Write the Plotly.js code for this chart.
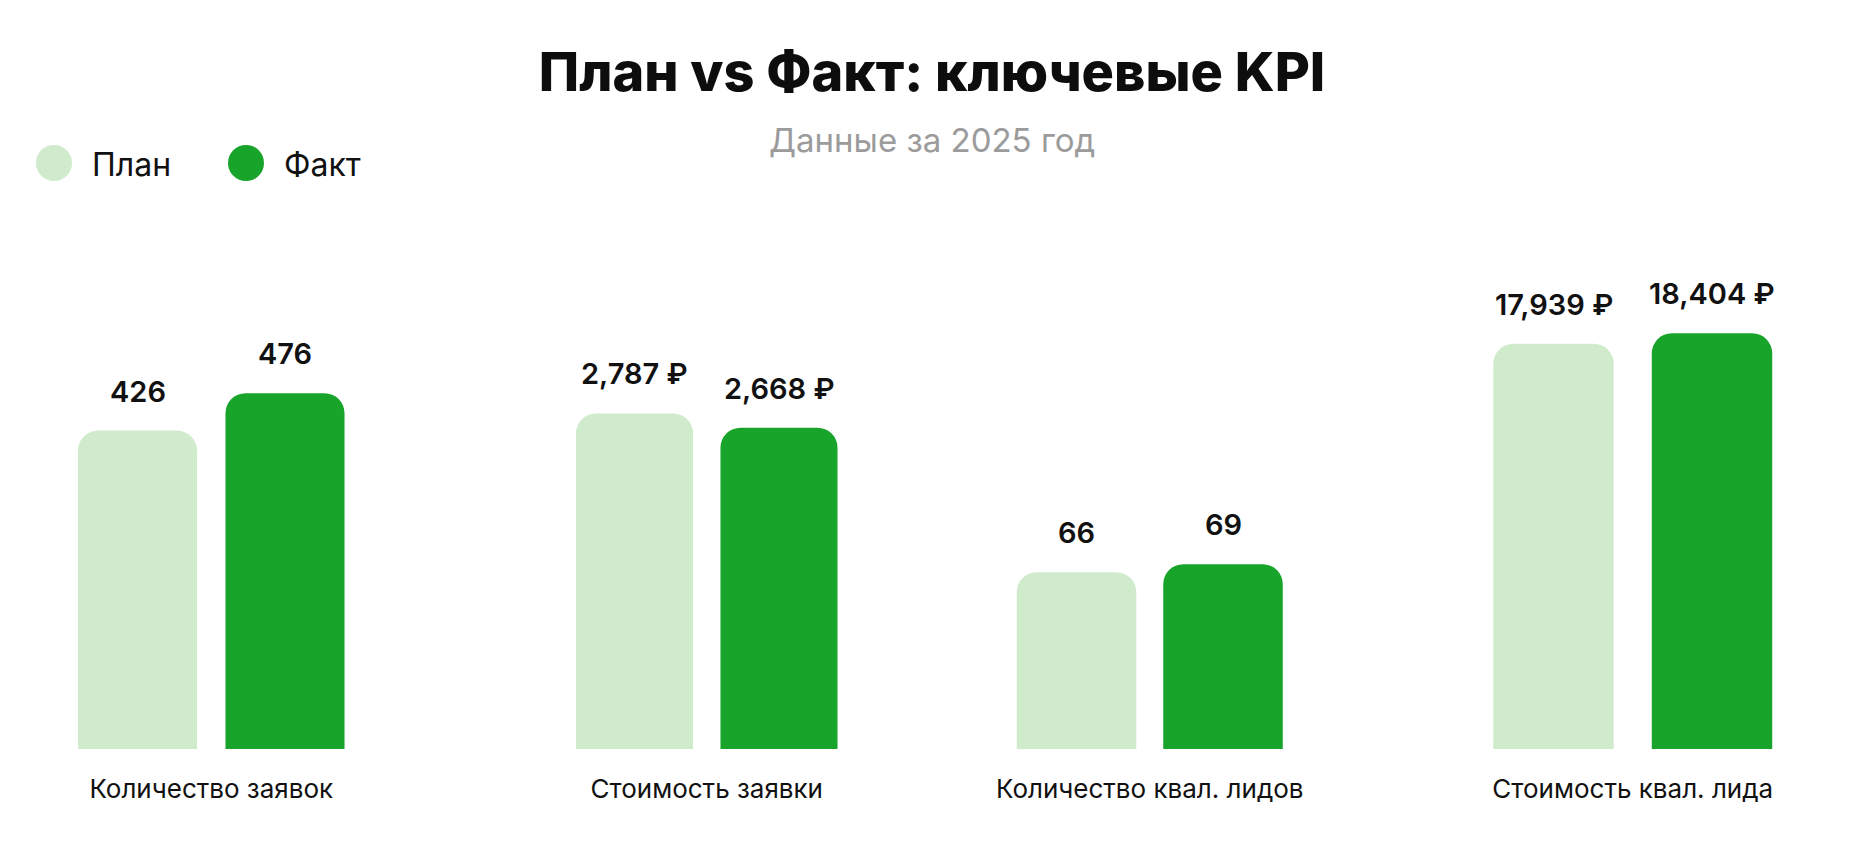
<!DOCTYPE html>
<html>
<head>
<meta charset="utf-8">
<script src="https://cdn.plot.ly/plotly-3.0.1.min.js"></script>
<style>
  html, body { margin: 0; padding: 0; background: #ffffff; }
  #chart { width: 1864px; height: 844px; }
</style>
</head>
<body>
<div id="chart"></div>
<script>
// KPI data, 2025
const kpiNames = ['Количество заявок', 'Стоимость заявки', 'Количество квал. лидов', 'Стоимость квал. лида']
const planValues = [426, 2787, 66, 17939]
const factValues = [476, 2668, 69, 18404]
const valueUnits = ['', ' ₽', '', ' ₽']
const seriesNames = ['План', 'Факт']

const W = 1864, H = 844
const planColor = '#cfebcc'
const factColor = '#18a32a'
const font = 'Inter, "Noto Sans", sans-serif'

// per-group layout: x domains (px), bar width in category units, top of y range
const groupDomains = [[63.75, 358.75], [562.25, 851.25], [1003.25, 1296.25], [1474.25, 1791.25]]
const barWidths = [0.807, 0.81, 0.816, 0.76]
const yTops = [669, 4152, 186.7, 22135]
const yDomain = [1 - 749 / H, 1 - 249 / H]

function fmt(v, unit) {
    return v.toLocaleString('en-US') + unit
}

let data = []
let layout = {
    width: W,
    height: H,
    margin: { l: 0, r: 0, t: 0, b: 0 },
    paper_bgcolor: '#ffffff',
    plot_bgcolor: '#ffffff',
    showlegend: false,
    font: { family: font, color: '#111111' },
    title: {
        text: 'План vs Факт: ключевые KPI',
        font: { family: font, size: 54, color: '#0d0d0d', weight: 800 },
        x: 0.5, xanchor: 'center',
        y: 1 - 72 / H, yanchor: 'middle',
    },
    annotations: [],
    shapes: [],
}

for (let i = 0; i < kpiNames.length; i++) {
    const n = i === 0 ? '' : String(i + 1)
    data.push({
        type: 'bar',
        x: seriesNames,
        y: [planValues[i], factValues[i]],
        xaxis: 'x' + n,
        yaxis: 'y' + n,
        width: barWidths[i],
        marker: { color: [planColor, factColor], cornerradius: 20, line: { width: 0 } },
        hovertemplate: '%{x}: %{y}<extra>' + kpiNames[i] + '</extra>',
    })
    layout['xaxis' + n] = {
        domain: [groupDomains[i][0] / W, groupDomains[i][1] / W],
        anchor: 'y' + n,
        type: 'category',
        range: [-0.5, 1.5],
        showticklabels: false,
        showgrid: false,
        zeroline: false,
        showline: false,
        ticks: '',
        fixedrange: true,
        title: { text: kpiNames[i], standoff: 30, font: { family: font, size: 26, color: '#111111' } },
    }
    layout['yaxis' + n] = {
        domain: yDomain,
        anchor: 'x' + n,
        range: [0, yTops[i]],
        visible: false,
        fixedrange: true,
    }
    const vals = [planValues[i], factValues[i]]
    vals.forEach((v, j) => {
        layout.annotations.push({
            xref: 'x' + n, yref: 'y' + n,
            x: seriesNames[j], y: v,
            text: fmt(v, valueUnits[i]),
            showarrow: false,
            yanchor: 'bottom',
            yshift: 20,
            font: { family: font, size: 29, color: '#111111', weight: 600 },
        })
    })
}

// subtitle
layout.annotations.push({
    xref: 'paper', yref: 'paper', x: 0.5, y: 1 - 140 / H,
    xanchor: 'center', yanchor: 'middle', showarrow: false,
    text: 'Данные за 2025 год',
    font: { family: font, size: 33, color: '#9b9b9b' },
})

// legend: circles + labels
const legendX = [54, 246]
const legendColors = [planColor, factColor]
seriesNames.forEach((name, j) => {
    layout.shapes.push({
        type: 'circle', xref: 'paper', yref: 'paper',
        x0: (legendX[j] - 18) / W, x1: (legendX[j] + 18) / W,
        y0: 1 - 181 / H, y1: 1 - 145 / H,
        fillcolor: legendColors[j], line: { width: 0 },
    })
    layout.annotations.push({
        xref: 'paper', yref: 'paper', x: (legendX[j] + 36) / W, y: 1 - 165 / H,
        xanchor: 'left', yanchor: 'middle', showarrow: false,
        text: name,
        font: { family: font, size: 32, color: '#111111' },
    })
})

Plotly.newPlot('chart', data, layout, { displayModeBar: false, responsive: false })
</script>
</body>
</html>
